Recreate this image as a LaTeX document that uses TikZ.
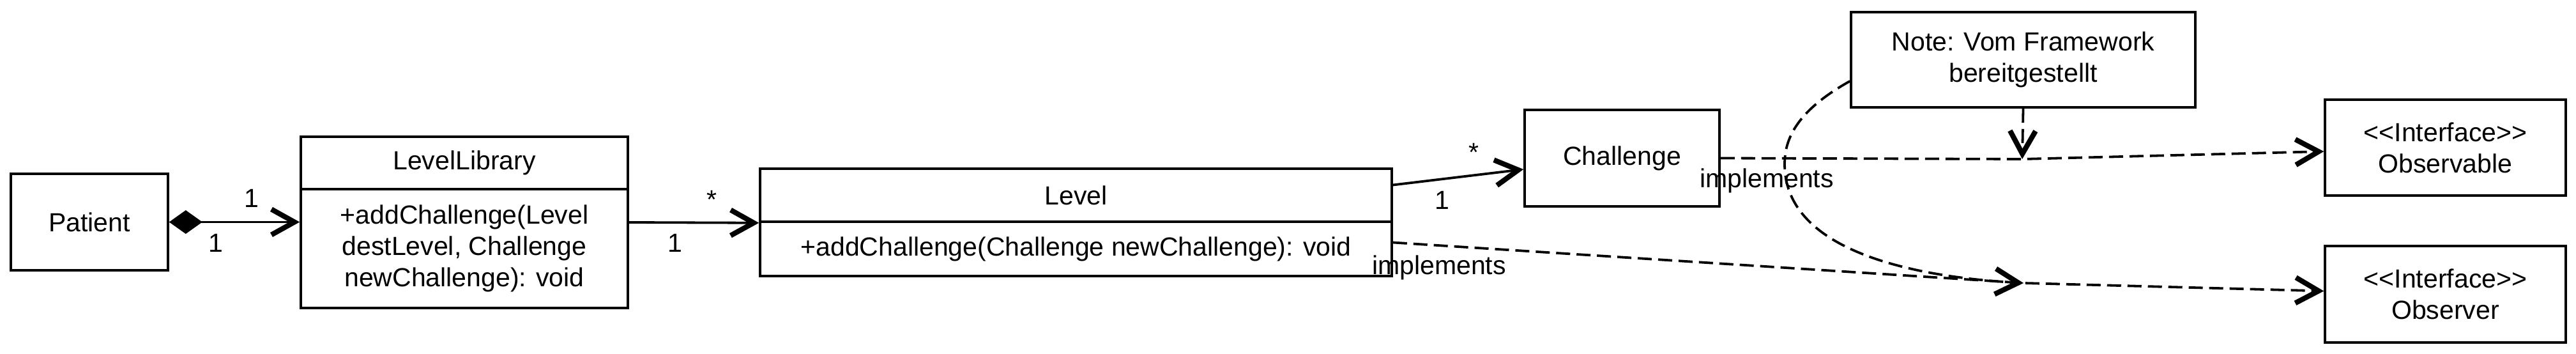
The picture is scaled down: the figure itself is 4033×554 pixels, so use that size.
\documentclass[tikz,border=0pt]{standalone}
\usepackage{fontspec}
\setmainfont{Liberation Sans}
\usetikzlibrary{arrows.meta,calc}
\begin{document}
\begin{tikzpicture}[x=0.25pt,y=-0.25pt,
  every node/.style={font=\fontsize{10.25}{12.25}\selectfont},
  box/.style={draw, line width=0.9pt, inner sep=0pt, align=center},
  conn/.style={line width=0.95pt},
  dashedconn/.style={conn, dash pattern=on 5.5pt off 2.5pt},
  openhead/.style={-{Straight Barb[length=9pt,width=10pt,line width=2pt]}},
  lbl/.style={anchor=base, inner sep=0pt}
]
\useasboundingbox (0,0) rectangle (4033,554);

\node[box, minimum width=61.5pt, minimum height=37.75pt] (patient) at (140,347.5) {Patient};
\node[box, minimum width=128pt, minimum height=20.5pt] (llh) at (727,255) {LevelLibrary};
\node[box, minimum width=128pt, minimum height=46.5pt] (llb) at (727,389) {+addChallenge(Level\\destLevel, Challenge\\newChallenge): void};
\node[box, minimum width=247.25pt, minimum height=20.75pt] (levelh) at (1684.5,305.5) {Level};
\node[box, minimum width=247.25pt, minimum height=21.25pt] (levelb) at (1684.5,389.5) {+addChallenge(Challenge newChallenge): void};
\node[box, minimum width=76.25pt, minimum height=37.75pt] (challenge) at (2539.5,247.5) {Challenge};
\node[box, minimum width=134.75pt, minimum height=37.25pt] (note) at (3167.5,93.5) {Note: Vom Framework\\bereitgestellt};
\node[box, minimum width=94.25pt, minimum height=37.5pt] (observable) at (3828.5,231) {<\kern0pt<Interface>\kern0pt>\\Observable};
\node[box, minimum width=94.25pt, minimum height=37.75pt] (observer) at (3828.5,460.5) {<\kern0pt<Interface>\kern0pt>\\Observer};

\coordinate (wpA) at (3166,249);
\coordinate (wpB) at (3168,443);

\draw[conn, {Diamond[length=13pt,width=9.25pt]}-{Straight Barb[length=9pt,width=10pt,line width=2pt]}] (patient.east) -- (patient.east -| llb.west);
\draw[conn, openhead] ($(llh.north east)!0.5!(llb.south east)$) -- (levelh.south west);
\draw[conn, openhead] ($(levelh.east)+(0,-16)$) -- ($(challenge.west)+(0,17.5)$);
\draw[dashedconn, openhead] (challenge.east) -- (wpA) -- ($(observable.west)+(0,6)$);
\draw[dashedconn, openhead] ($(levelb.east)+(0,-10)$) -- (wpB) -- ($(observer.west)+(0,-5)$);
\draw[dashedconn, openhead] (note.south) -- (wpA);
\draw[dashedconn, openhead] ($(note.west)+(0,33.5)$) .. controls (2810,175) and (2794,220) .. (2794,257) .. controls (2794,380) and (2960,431) .. (wpB);

\node[lbl] (m1) at (394,325) {1};
\node[lbl] (m2) at (338,395) {1};
\node[lbl] (m3) at (1114,327) {*};
\node[lbl] (m4) at (1057,395) {1};
\node[lbl] (m5) at (2307,253) {*};
\node[lbl] (m6) at (2258,328) {1};
\node[lbl] (impl1) at (2766,294) {implements};
\node[lbl] (impl2) at (2253,430) {implements};
\end{tikzpicture}
\end{document}
